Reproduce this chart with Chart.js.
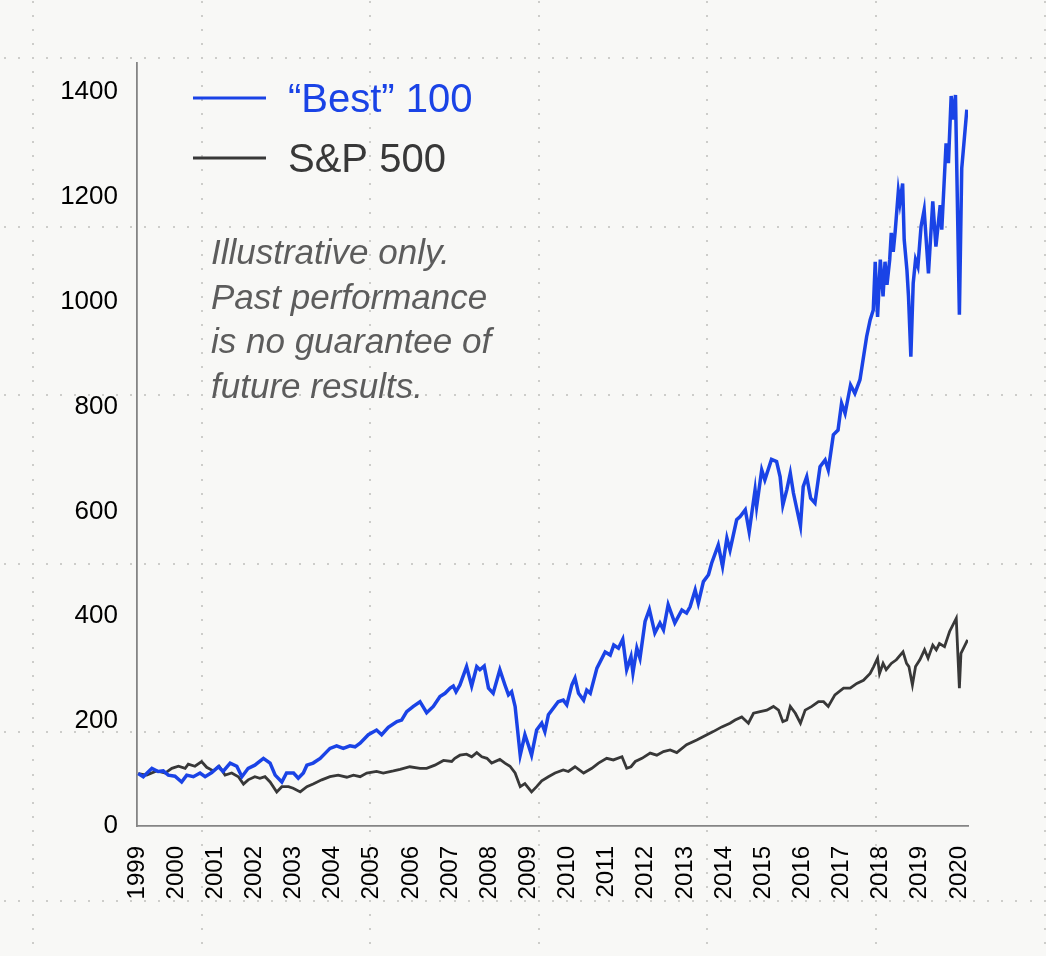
<!DOCTYPE html>
<html>
<head>
<meta charset="utf-8">
<title>Best 100 vs S&amp;P 500</title>
<script src="https://cdn.jsdelivr.net/npm/chart.js@4.4.1/dist/chart.umd.min.js"></script>
<style>
    html, body { margin: 0; padding: 0; overflow: hidden; background: #f8f8f6; }
    #wrap { position: relative; width: 1046px; height: 956px; }
</style>
</head>
<body>
<div id="wrap"><canvas id="myChart"></canvas></div>
<script>
// values (x = position on the year axis)
var bestYears = [1999.03, 1999.16, 1999.38, 1999.54, 1999.67, 1999.80, 1999.97, 2000.14, 2000.27, 2000.44,
    2000.61, 2000.74, 2000.91, 2001.08, 2001.20, 2001.38, 2001.55, 2001.68, 2001.84, 2002.01,
    2002.23, 2002.40, 2002.53, 2002.70, 2002.82, 2003.00, 2003.12, 2003.25, 2003.34, 2003.50,
    2003.68, 2003.93, 2004.10, 2004.27, 2004.44, 2004.57, 2004.70, 2004.91, 2005.12, 2005.25,
    2005.42, 2005.64, 2005.76, 2005.89, 2006.06, 2006.23, 2006.40, 2006.57, 2006.74, 2006.87,
    2007.00, 2007.08, 2007.15, 2007.25, 2007.42, 2007.55, 2007.68, 2007.76, 2007.87, 2007.98,
    2008.10, 2008.27, 2008.40, 2008.49, 2008.57, 2008.66, 2008.79, 2008.91, 2009.00, 2009.08,
    2009.21, 2009.34, 2009.42, 2009.51, 2009.64, 2009.76, 2009.89, 2009.98, 2010.11, 2010.19,
    2010.28, 2010.41, 2010.49, 2010.58, 2010.75, 2010.96, 2011.09, 2011.18, 2011.30, 2011.41,
    2011.51, 2011.62, 2011.67, 2011.77, 2011.85, 2011.98, 2012.09, 2012.23, 2012.36, 2012.45,
    2012.57, 2012.74, 2012.92, 2013.04, 2013.13, 2013.26, 2013.34, 2013.47, 2013.60, 2013.68,
    2013.85, 2013.96, 2014.07, 2014.15, 2014.32, 2014.41, 2014.54, 2014.64, 2014.79, 2014.83,
    2014.96, 2015.04, 2015.21, 2015.34, 2015.43, 2015.50, 2015.60, 2015.69, 2015.77, 2015.95,
    2016.02, 2016.11, 2016.21, 2016.32, 2016.45, 2016.58, 2016.66, 2016.79, 2016.91, 2017.00,
    2017.09, 2017.23, 2017.34, 2017.47, 2017.64, 2017.73, 2017.81, 2017.86, 2017.92, 2017.99,
    2018.06, 2018.11, 2018.16, 2018.23, 2018.27, 2018.32, 2018.37, 2018.45, 2018.49, 2018.56,
    2018.60, 2018.67, 2018.71, 2018.77, 2018.83, 2018.89, 2018.95, 2018.99, 2019.03, 2019.11,
    2019.22, 2019.33, 2019.41, 2019.52, 2019.56, 2019.67, 2019.73, 2019.80, 2019.86, 2019.91,
    2020.01, 2020.07, 2020.20];
var bestValues = [100, 94, 110, 104, 105, 97, 95, 84, 97, 94,
    101, 94, 102, 113, 104, 120, 114, 94, 110, 116,
    129, 120, 97, 84, 101, 101, 91, 101, 116, 120,
    129, 148, 153, 148, 153, 151, 158, 174, 183, 174,
    188, 199, 202, 218, 228, 237, 216, 228, 247, 253,
    263, 267, 256, 269, 304, 267, 304, 298, 305, 263,
    253, 298, 269, 250, 256, 228, 135, 174, 154, 135,
    183, 196, 180, 212, 225, 237, 240, 231, 269, 282,
    253, 240, 259, 253, 301, 332, 326, 345, 339, 356,
    298, 323, 292, 339, 320, 390, 413, 368, 387, 374,
    422, 387, 412, 406, 418, 450, 425, 466, 479, 501,
    536, 495, 549, 526, 584, 590, 603, 561, 641, 609,
    679, 660, 699, 695, 666, 612, 641, 673, 635, 572,
    647, 666, 625, 616, 685, 698, 679, 746, 755, 806,
    787, 841, 825, 851, 933, 965, 984, 1076, 971, 1080,
    1010, 1076, 1032, 1080, 1131, 1095, 1134, 1210, 1188, 1225,
    1118, 1060, 1010, 895, 1035, 1080, 1067, 1105, 1143, 1175,
    1054, 1191, 1105, 1184, 1137, 1302, 1264, 1392, 1347, 1394,
    975, 1254, 1366];

var spYears = [1999.03, 1999.25, 1999.50, 1999.72, 1999.89, 2000.06, 2000.23, 2000.31, 2000.48, 2000.65,
    2000.78, 2000.95, 2001.10, 2001.25, 2001.42, 2001.59, 2001.72, 2001.84, 2002.01, 2002.14,
    2002.27, 2002.40, 2002.57, 2002.70, 2002.87, 2002.99, 2003.17, 2003.34, 2003.50, 2003.72,
    2003.93, 2004.14, 2004.36, 2004.53, 2004.70, 2004.87, 2005.12, 2005.29, 2005.55, 2005.72,
    2005.97, 2006.23, 2006.40, 2006.61, 2006.83, 2007.04, 2007.12, 2007.25, 2007.42, 2007.55,
    2007.68, 2007.81, 2007.94, 2008.06, 2008.27, 2008.40, 2008.53, 2008.66, 2008.79, 2008.91,
    2009.08, 2009.21, 2009.34, 2009.51, 2009.68, 2009.89, 2010.02, 2010.19, 2010.41, 2010.62,
    2010.79, 2011.00, 2011.17, 2011.39, 2011.51, 2011.62, 2011.73, 2011.90, 2012.11, 2012.28,
    2012.45, 2012.62, 2012.79, 2013.04, 2013.30, 2013.56, 2013.72, 2013.94, 2014.15, 2014.28,
    2014.45, 2014.62, 2014.75, 2014.92, 2015.09, 2015.26, 2015.39, 2015.50, 2015.60, 2015.69,
    2015.82, 2015.95, 2016.07, 2016.24, 2016.41, 2016.54, 2016.66, 2016.83, 2017.05, 2017.22,
    2017.39, 2017.56, 2017.73, 2017.82, 2017.92, 2017.97, 2018.06, 2018.14, 2018.27, 2018.40,
    2018.57, 2018.66, 2018.72, 2018.81, 2018.89, 2019.00, 2019.12, 2019.21, 2019.33, 2019.42,
    2019.50, 2019.63, 2019.76, 2019.93, 2020.01, 2020.05, 2020.22];
var spValues = [100, 97, 105, 101, 110, 114, 110, 118, 114, 123,
    112, 105, 114, 97, 101, 94, 80, 88, 94, 91,
    94, 84, 65, 75, 75, 72, 65, 75, 80, 88,
    94, 97, 93, 97, 94, 101, 104, 101, 105, 108,
    113, 110, 110, 116, 125, 123, 129, 135, 137, 132,
    140, 132, 129, 120, 127, 120, 114, 101, 75, 81,
    65, 75, 86, 94, 101, 107, 104, 113, 101, 110,
    120, 129, 126, 132, 110, 113, 123, 129, 139, 135,
    142, 145, 140, 155, 164, 174, 180, 189, 196, 202,
    208, 196, 215, 218, 221, 228, 221, 199, 202, 228,
    215, 196, 221, 228, 237, 237, 228, 250, 263, 263,
    272, 278, 291, 304, 320, 291, 310, 298, 310, 317,
    332, 310, 304, 269, 304, 317, 336, 320, 345, 336,
    348, 342, 371, 396, 263, 329, 355];

var seriesNames = ['\u201cBest\u201d 100', 'S&P 500'];
var seriesColors = ['#1a43e6', '#383838'];
var xTickYears = [1999, 2000, 2001, 2002, 2003, 2004, 2005, 2006, 2007, 2008, 2009,
    2010, 2011, 2012, 2013, 2014, 2015, 2016, 2017, 2018, 2019, 2020];
var yTickValues = [0, 200, 400, 600, 800, 1000, 1200, 1400];
var noteLines = ['Illustrative only.', 'Past performance', 'is no guarantee of', 'future results.'];

function toPoints(xs, ys) {
    var pts = [];
    for (var i = 0; i < xs.length; i++) {
        pts.push({x: xs[i], y: ys[i]});
    }
    return pts;
}

// dotted "graph paper" behind everything
var paperPlugin = {
    id: 'paper',
    beforeDraw: function(chart) {
        var ctx = chart.ctx;
        var w = chart.width, h = chart.height;
        var step = 168.6, pitch = step / 12;
        ctx.save();
        ctx.fillStyle = '#f8f8f6';
        ctx.fillRect(0, 0, w, h);
        ctx.fillStyle = '#cdcdca';
        for (var gx = 33; gx < w; gx += step) {
            for (var y = 58 - pitch * 4; y < h; y += pitch) {
                ctx.fillRect(Math.round(gx) - 1, Math.round(y) - 1, 2, 2);
            }
        }
        for (var gy = 58; gy < h; gy += step) {
            for (var x = 33 - pitch * 2; x < w; x += pitch) {
                ctx.fillRect(Math.round(x) - 1, Math.round(gy) - 1, 2, 2);
            }
        }
        ctx.restore();
    }
};

// legend lines + italic note inside the plot
var textPlugin = {
    id: 'texts',
    afterDraw: function(chart) {
        var ctx = chart.ctx;
        ctx.save();
        var rows = [98, 158];
        chart.data.datasets.forEach(function(ds, i) {
            ctx.strokeStyle = ds.borderColor;
            ctx.lineWidth = 3;
            ctx.beginPath();
            ctx.moveTo(193, rows[i]);
            ctx.lineTo(266, rows[i]);
            ctx.stroke();
            ctx.fillStyle = ds.borderColor;
            ctx.font = '40px "Liberation Sans", Arial, sans-serif';
            ctx.textBaseline = 'alphabetic';
            ctx.fillText(ds.label, 288, rows[i] + 14);
        });
        ctx.fillStyle = '#5c5c5c';
        ctx.font = 'italic 35px "Liberation Sans", Arial, sans-serif';
        noteLines.forEach(function(line, i) {
            ctx.fillText(line, 211, 264 + i * 44.7);
        });
        ctx.restore();
    }
};

var ctx = document.getElementById('myChart').getContext('2d');
var chart = new Chart(ctx, {
    type: 'line',
    data: {
        datasets: [{
            label: seriesNames[0],
            data: toPoints(bestYears, bestValues),
            borderColor: seriesColors[0],
            borderWidth: 3.5,
            pointRadius: 0,
            tension: 0
        }, {
            label: seriesNames[1],
            data: toPoints(spYears, spValues),
            borderColor: seriesColors[1],
            borderWidth: 2.8,
            pointRadius: 0,
            tension: 0
        }]
    },
    options: {
        responsive: true,
        maintainAspectRatio: false,
        animation: false,
        layout: { padding: { top: 63, right: 78, left: 0, bottom: 0 } },
        plugins: {
            legend: { display: false },
            tooltip: { enabled: false }
        },
        scales: {
            x: {
                type: 'linear',
                min: 1999,
                max: 2020.23,
                grid: { display: false },
                border: { display: true, color: '#858585', width: 1.8 },
                afterBuildTicks: function(axis) {
                    axis.ticks = xTickYears.map(function(v) { return {value: v}; });
                },
                afterFit: function(axis) { axis.height = 130; },
                ticks: {
                    autoSkip: false,
                    minRotation: 90,
                    maxRotation: 90,
                    padding: 12,
                    color: '#000',
                    font: { family: '"Liberation Sans", Arial, sans-serif', size: 24 },
                    callback: function(v) { return String(v); }
                }
            },
            y: {
                min: 0,
                max: 1455,
                grid: { display: false },
                border: { display: true, color: '#858585', width: 1.8 },
                afterBuildTicks: function(axis) {
                    axis.ticks = yTickValues.map(function(v) { return {value: v}; });
                },
                afterFit: function(axis) { axis.width = 137; },
                ticks: {
                    padding: 11,
                    color: '#000',
                    font: { family: '"Liberation Sans", Arial, sans-serif', size: 26 },
                    callback: function(v) { return String(v); }
                }
            }
        }
    },
    plugins: [paperPlugin, textPlugin]
});
</script>
</body>
</html>
